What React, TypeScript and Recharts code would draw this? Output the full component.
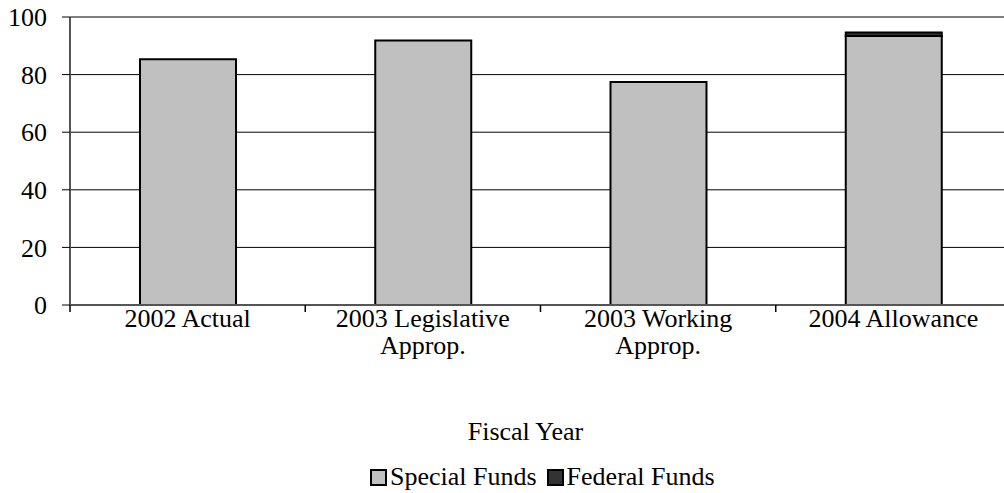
import { BarChart, Bar, XAxis, YAxis, CartesianGrid } from 'recharts';

const categories = ['2002 Actual', '2003 Legislative\nApprop.', '2003 Working\nApprop.', '2004 Allowance'];
const specialFunds = [85.3, 91.8, 77.4, 93.4];
const federalFunds = [0, 0, 0, 1.2];
const yTicks = [0, 20, 40, 60, 80, 100];

const series = [
  { key: 'special', name: 'Special Funds', color: '#C0C0C0' },
  { key: 'federal', name: 'Federal Funds', color: '#333333' },
];

const data = categories.map((c, i) => ({
  category: c,
  special: specialFunds[i],
  federal: federalFunds[i],
}));

const FONT = '"Liberation Serif", "Times New Roman", serif';

// tick label split over lines; the tick mark sits on the left edge of each band
const CategoryTick = (props: any) => {
  const { x, y, payload } = props;
  const lines = String(payload.value).split('\n');
  const edge = x - (payload.offset || 0);
  return (
    <g>
      <line x1={edge} x2={edge} y1={y - 8} y2={y - 1} stroke="#000" strokeWidth={1.5} />
      {lines.map((line, i) => (
        <text
          key={i}
          x={x}
          y={y + 14 + i * 27}
          textAnchor="middle"
          fontFamily={FONT}
          fontSize={26}
          fill="#000"
        >
          {line}
        </text>
      ))}
    </g>
  );
};

const App = () => {
  return (
    <div style={{ position: 'absolute', left: 0, top: 0, width: 1004, height: 493, background: '#fff' }}>
      <BarChart
        width={1004}
        height={493}
        data={data}
        margin={{ top: 17, right: -7, left: 0, bottom: 0 }}
        barSize={96}
      >
        <CartesianGrid horizontal vertical={false} stroke="#000" strokeWidth={1} />
        <XAxis
          dataKey="category"
          height={188}
          tickLine={false}
          tickSize={6}
          tickMargin={2}
          axisLine={{ stroke: '#555', strokeWidth: 2 }}
          interval={0}
          tick={<CategoryTick />}
          label={{
            value: 'Fiscal Year',
            position: 'insideBottom',
            offset: 53,
            dx: -15,
            style: { fontFamily: FONT, fontSize: 26, fill: '#000' },
          }}
        />
        <YAxis
          width={70}
          domain={[0, 100]}
          ticks={yTicks}
          axisLine={{ stroke: '#555', strokeWidth: 2 }}
          tickLine={{ stroke: '#000' }}
          tickSize={8}
          tick={{ fontFamily: FONT, fontSize: 26, fill: '#000', dx: -13 }}
        />
        {series.map((s) => (
          <Bar
            key={s.key}
            dataKey={s.key}
            name={s.name}
            stackId="a"
            fill={s.color}
            stroke="#000"
            strokeWidth={2}
            isAnimationActive={false}
          />
        ))}
      </BarChart>
      <div
        style={{
          position: 'absolute',
          top: 462,
          left: 370,
          display: 'flex',
          alignItems: 'center',
          fontFamily: FONT,
          fontSize: 26,
          color: '#000',
          whiteSpace: 'nowrap',
        }}
      >
        {series.map((s) => (
          <div key={s.key} style={{ display: 'flex', alignItems: 'center', marginRight: 10 }}>
            <span
              style={{
                display: 'inline-block',
                width: 13,
                height: 13,
                background: s.color,
                border: '2px solid #000',
                marginRight: 3,
              }}
            />
            <span>{s.name}</span>
          </div>
        ))}
      </div>
    </div>
  );
};

export default App;
